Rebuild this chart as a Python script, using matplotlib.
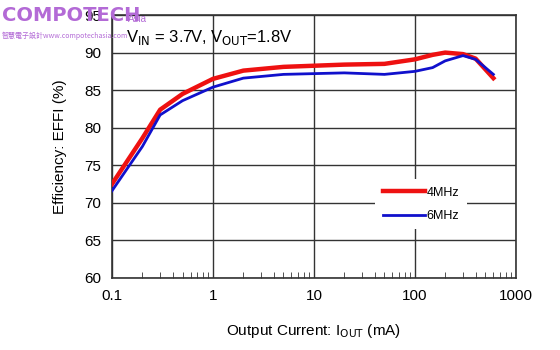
import matplotlib
matplotlib.use('Agg')
from matplotlib import pyplot as plt
from matplotlib.ticker import LogLocator, NullFormatter, FixedLocator

# data
current_4mhz = [0.1, 0.2, 0.3, 0.5, 1, 2, 5, 10, 20, 50, 100, 150, 200, 300, 400, 600]
eff_4mhz = [72.5, 78.6, 82.4, 84.5, 86.5, 87.6, 88.1, 88.25, 88.4, 88.5, 89.1, 89.7, 90.0, 89.8, 89.2, 86.6]

current_6mhz = [0.1, 0.2, 0.3, 0.5, 1, 2, 5, 10, 20, 50, 100, 150, 200, 300, 400, 600]
eff_6mhz = [71.6, 77.5, 81.7, 83.6, 85.4, 86.6, 87.1, 87.2, 87.3, 87.1, 87.5, 88.0, 88.9, 89.6, 89.1, 87.1]

xticks = [0.1, 1, 10, 100, 1000]
xtick_labels = ['0.1', '1', '10', '100', '1000']
yticks = [60, 65, 70, 75, 80, 85, 90, 95]

plt.rcParams['font.family'] = ['Liberation Sans', 'DejaVu Sans']

fig = plt.figure(figsize=(5.6, 3.5), dpi=100)
ax = fig.add_axes([0.2, 0.206, 0.721, 0.751])

ax.plot(current_4mhz, eff_4mhz, color='#ee1111', lw=3.2, label='4MHz', zorder=3)
ax.plot(current_6mhz, eff_6mhz, color='#1010cc', lw=2.0, label='6MHz', zorder=3)

ax.set_xscale('log')
ax.set_xlim(0.1, 1000)
ax.set_ylim(60, 95)
ax.xaxis.set_major_locator(FixedLocator(xticks))
ax.set_xticklabels(xtick_labels)
ax.xaxis.set_minor_locator(LogLocator(base=10, subs=range(2, 10)))
ax.xaxis.set_minor_formatter(NullFormatter())
ax.set_yticks(yticks)

ax.grid(True, which='major', color='#333333', lw=1.0)
ax.tick_params(axis='both', which='major', length=0, labelsize=11, pad=8, colors='black')
ax.tick_params(axis='x', which='minor', direction='in', length=4, color='#333333')
for s in ax.spines.values():
    s.set_color('#333333')
    s.set_linewidth(1.2)

ax.set_xlabel('Output Current: I$_{\\rm OUT}$ (mA)', fontsize=11, labelpad=14)
ax.set_ylabel('Efficiency: EFFI (%)', fontsize=11, labelpad=12)

ax.text(0.035, 0.915, 'V$_{\\rm IN}$ = 3.7V, V$_{\\rm OUT}$=1.8V', transform=ax.transAxes,
        fontsize=12, va='center', ha='left')

leg = ax.legend(loc='center', bbox_to_anchor=(0.765, 0.28), frameon=True, fontsize=9,
                handlelength=3.4, handletextpad=0.1, labelspacing=0.9, borderpad=0.6)
leg.get_frame().set_edgecolor('none')
leg.get_frame().set_facecolor('white')
leg.get_frame().set_alpha(1)

# watermark
fig.text(0.003, 0.928, 'COMPOTECH', color='#b36ad6', fontsize=14, fontweight='bold',
         family='DejaVu Sans', va='bottom', ha='left')
fig.text(0.228, 0.93, 'Asia', color='#b36ad6', fontsize=7, va='bottom', ha='left')
fig.text(0.003, 0.885, '智慧電子設計www.compotechasia.com', color='#b36ad6', fontsize=5,
         family=['Noto Sans CJK TC', 'DejaVu Sans'], va='bottom', ha='left')

plt.savefig('out.png', dpi=100)
